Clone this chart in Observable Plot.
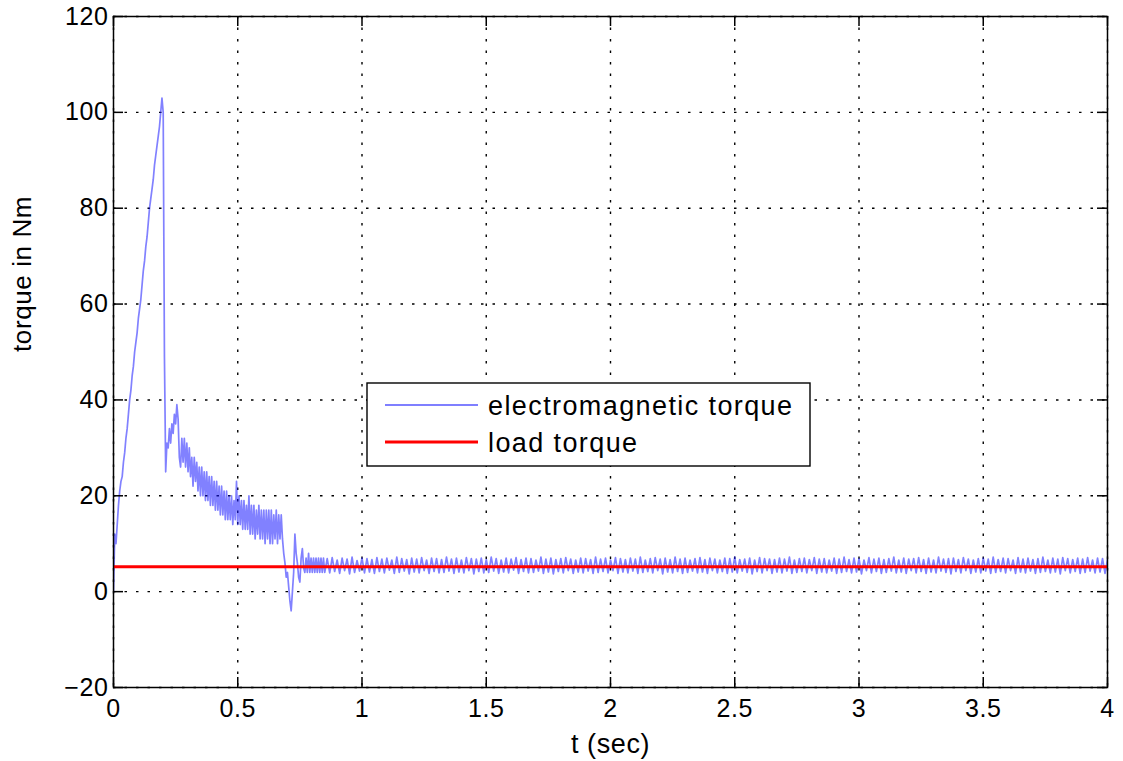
<!DOCTYPE html>
<html>
<head>
<meta charset="utf-8">
<script src="https://cdn.jsdelivr.net/npm/d3@7"></script>
<script src="https://cdn.jsdelivr.net/npm/@observablehq/plot@0.6"></script>
<style>
  html, body { margin: 0; padding: 0; background: #fff; }
  #wrap { position: relative; width: 1123px; height: 761px; }
  #legend { position: absolute; left: 366px; top: 382px; }
</style>
</head>
<body>
<div id="wrap"></div>
<script>
// ---- data ----
const xTicks = [0, 0.5, 1, 1.5, 2, 2.5, 3, 3.5, 4];
const yTicks = [-20, 0, 20, 40, 60, 80, 100, 120];
const seriesNames = ["electromagnetic torque", "load torque"];
const loadTorque = 5.2;

// electromagnetic torque, start-up transient, one sample every 0.005 s from t = 0
const transientStep = 0.005;
const transientTorque = [
  0,12,10,14,18,21,23,24,27,29,
  32,34,37,40,42,45,47,50,52,54,
  57,59,61,64,67,69,72,74,77,80,
  82,84,86,89,91,93,95,97,100,103,
  100,49,25,31,30,34,31,35,33,37,
  35,39,36,28,26,32,27,32,26,31,
  25,30,24,28,22,28,23,27,21,26,
  20,26,20,25,19,25,19,24,18,24,
  18,23,17,23,17,22,16,22,16,21,
  15,21,15,20,15,20,14,19,15,23,
  14,20,14,19,13,19,13,18,13,20,
  12,18,12,18,11,17,12,18,11,17,
  11,17,10,17,11,17,10,17,10,16,
  11,17,10,16,11,16,11,8,6,3,
  4,1,-2,-4,0,4,12,8,6,3,
  2,7,9,5,4,7,4,8,4,7,
  4,7,4,7,4,7,4,7,4,7,
  4
];

// electromagnetic torque, steady state, one sample every 0.01 s from t = 0.86
const steadyStart = 0.86;
const steadyStep = 0.01;
const steadyTorque = [
  6.9,3.9,7.1,4.2,6.6,3.8,7.0,4.4,6.8,3.7,7.2,4.0,6.5,4.3,7.0,3.9,6.9,4.1,6.7,3.8,
  7.1,4.2,6.8,3.9,7.0,4.5,6.6,3.8,7.2,4.0,6.9,4.3,6.7,3.7,7.0,4.1,6.8,3.9,7.1,4.4,
  6.6,3.8,7.0,4.2,6.9,3.9,6.7,4.0,7.2,4.3,6.8,3.8,7.0,4.1,6.6,3.9,7.1,4.4,6.9,3.7,
  6.8,4.2,7.0,3.9,6.7,4.0,7.2,4.3,6.9,3.8,6.6,4.1,7.0,3.9,6.8,4.5,7.1,3.8,6.7,4.2,
  7.0,3.9,6.9,4.0,6.6,4.3,7.2,3.8,6.8,4.1,7.0,3.7,6.7,4.2,6.9,3.9,7.1,4.4,6.8,3.8,
  6.6,4.1,7.0,3.9,6.9,4.3,6.7,3.8,7.2,4.0,6.8,4.2,7.0,3.9,6.6,4.4,7.1,3.8,6.9,4.1,
  6.7,3.9,7.0,4.3,6.8,3.8,7.2,4.0,6.6,4.2,6.9,3.9,7.1,4.4,6.8,3.7,7.0,4.1,6.7,3.9,
  7.2,4.2,6.8,3.8,7.0,4.0,6.6,4.3,6.9,3.9,7.1,4.1,6.7,3.8,7.0,4.4,6.8,3.9,6.6,4.2,
  7.0,3.8,6.9,4.1,7.2,3.9,6.7,4.3,6.8,4.0,7.0,3.7,6.6,4.2,7.1,3.9,6.9,4.4,6.8,3.8,
  6.7,4.1,7.0,3.9,6.8,4.3,7.2,3.8,6.6,4.0,6.9,4.2,7.0,3.9,6.7,4.4,7.1,3.8,6.8,4.1,
  6.9,3.9,6.6,4.3,7.0,3.8,6.8,4.0,7.2,4.2,6.7,3.9,7.0,4.1,6.9,3.7,6.6,4.4,7.1,3.9,
  6.8,4.2,7.0,3.8,6.7,4.0,6.9,4.3,7.2,3.9,6.6,4.1,7.0,3.8,6.8,4.4,6.9,3.9,7.1,4.2,
  6.7,3.8,7.0,4.1,6.6,3.9,7.2,4.3,6.8,4.0,6.9,3.7,7.0,4.2,6.7,3.9,7.1,4.4,6.8,3.8,
  6.6,4.1,6.9,3.9,7.0,4.3,6.8,3.8,7.2,4.0,6.7,4.2,7.0,3.9,6.9,4.4,6.6,3.8,7.1,4.1,
  6.8,3.9,7.0,4.3,6.7,3.8,6.9,4.0,7.2,4.2,6.6,3.9,7.0,4.1,6.8,3.7,7.1,4.4,6.9,3.9,
  6.7,4.2,7.0,3.8,6.8,4.0,7.1,4.3,6.6,3.9,7.0,4.1,6.9,3.8,6.7
];

// ---- build table ----
const emData = [
  ...transientTorque.map((v, i) => ({t: i * transientStep, v})),
  ...steadyTorque.map((v, i) => ({t: steadyStart + i * steadyStep, v}))
];

const W = 1123, H = 761;
const mL = 113, mR = 16, mT = 16, mB = 74;
const innerW = W - mL - mR, innerH = H - mT - mB;
const tickLen = 10;
const font = "'Liberation Sans', Arial, Helvetica, sans-serif";

const chart = Plot.plot({
  width: W, height: H,
  marginLeft: mL, marginRight: mR, marginTop: mT, marginBottom: mB,
  style: {fontFamily: font, fontSize: "25px", background: "#fff", color: "#000", overflow: "visible"},
  x: {domain: [0, 4], label: null},
  y: {domain: [-20, 120], label: null},
  marks: [
    Plot.gridX(xTicks, {stroke: "#000", strokeOpacity: 1, strokeWidth: 1.4, strokeDasharray: "2.5,9"}),
    Plot.gridY(yTicks, {stroke: "#000", strokeOpacity: 1, strokeWidth: 1.4, strokeDasharray: "2.5,9"}),
    Plot.line(emData, {x: "t", y: "v", stroke: "#1a1aff", strokeWidth: 1.7, strokeOpacity: 0.55, clip: true}),
    Plot.ruleY([loadTorque], {stroke: "#ff0000", strokeWidth: 3}),
    Plot.frame({stroke: "#000", strokeWidth: 1.5}),
    Plot.tickX(xTicks, {x: d => d, insetTop: innerH - tickLen, stroke: "#000", strokeWidth: 1.5}),
    Plot.tickX(xTicks, {x: d => d, insetBottom: innerH - tickLen, stroke: "#000", strokeWidth: 1.5}),
    Plot.tickY(yTicks, {y: d => d, insetRight: innerW - tickLen, stroke: "#000", strokeWidth: 1.5}),
    Plot.tickY(yTicks, {y: d => d, insetLeft: innerW - tickLen, stroke: "#000", strokeWidth: 1.5}),
    Plot.axisX(xTicks, {anchor: "bottom", tickSize: 0, tickPadding: 12, fontSize: 25, label: null, tickFormat: d => String(d)}),
    Plot.axisY(yTicks, {anchor: "left", tickSize: 0, tickPadding: 5, fontSize: 25, label: null}),
    Plot.text(["t (sec)"], {frameAnchor: "bottom", dy: 57, fontSize: 27, fill: "#000", lineAnchor: "middle"}),
    Plot.text(["torque in Nm"], {frameAnchor: "left", dx: -91, rotate: -90, fontSize: 26, fill: "#000", lineAnchor: "middle"})
  ]
});

chart.querySelectorAll("text").forEach(t => t.style.letterSpacing = "0.6px");
document.getElementById("wrap").appendChild(chart);

// ---- legend (overlay) ----
const legendColors = ["#0000ff", "#ff0000"];
const legendWidths = [1.2, 3];
const lg = d3.select("#wrap").append("svg")
  .attr("id", "legend").attr("width", 446).attr("height", 86);
lg.append("rect").attr("x", 1).attr("y", 1).attr("width", 443).attr("height", 83)
  .attr("fill", "#fff").attr("stroke", "#000").attr("stroke-width", 1.4);
seriesNames.forEach((name, i) => {
  const cy = 23 + i * 37;
  lg.append("line").attr("x1", 19).attr("x2", 112).attr("y1", cy).attr("y2", cy)
    .attr("stroke", legendColors[i]).attr("stroke-width", legendWidths[i]);
  lg.append("text").attr("x", 122).attr("y", cy + 10)
    .attr("font-family", font).attr("font-size", 27).attr("letter-spacing", "1.4px")
    .attr("fill", "#000").text(name);
});
</script>
</body>
</html>
